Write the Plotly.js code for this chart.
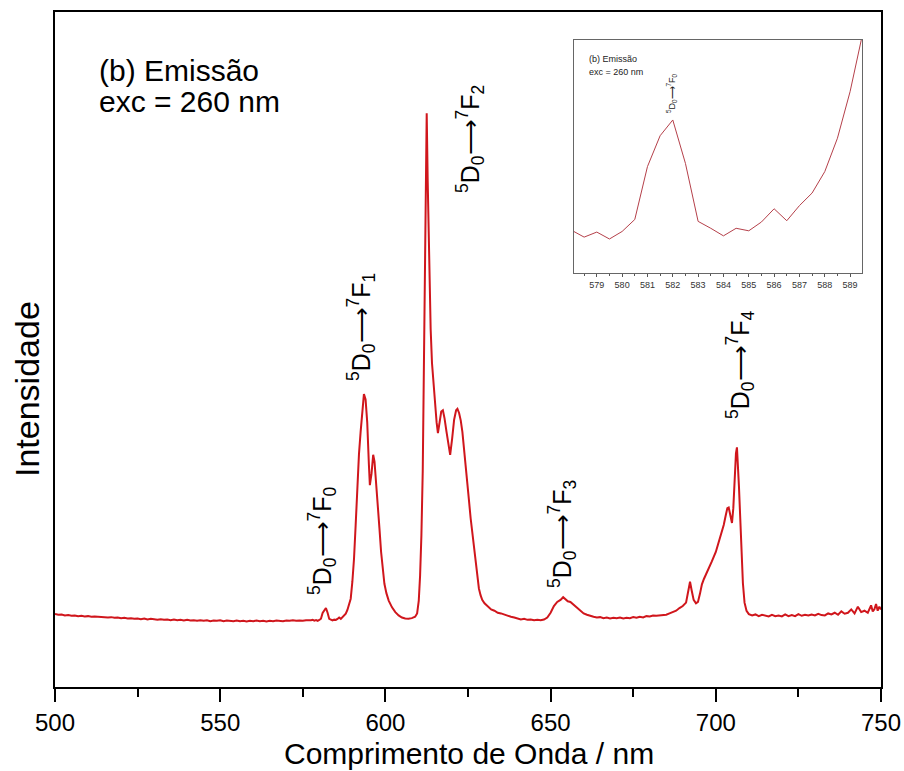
<!DOCTYPE html>
<html>
<head>
<meta charset="utf-8">
<script src="https://cdn.plot.ly/plotly-3.0.1.min.js"></script>
<style>html,body{margin:0;padding:0;background:#fff;}#chart{width:904px;height:771px;}</style>
</head>
<body>
<div id="chart"></div>
<script>
// Emission spectrum (exc = 260 nm), wavelength in nm, intensity in arbitrary units
const wavelength = [
500,501,502,503,504,505,506,507,508,509,510,511,512,513,514,515,516,517,518,519,
520,521,522,523,524,525,526,527,528,529,530,531,532,533,534,535,536,537,538,539,
540,541,542,543,544,545,546,547,548,549,550,551,552,553,554,555,556,557,558,559,
560,561,562,563,564,565,566,567,568,569,570,571,572,573,574,575,576,577,577.5,
578,578.5,579,579.5,580,580.5,581,581.5,582,582.5,583,583.5,584,584.5,585,585.5,
586,586.5,587,587.5,588,588.5,589,589.5,
590,590.5,591,591.5,592,592.5,593,593.5,594,594.5,595,595.3,595.8,596.3,596.7,597.2,
597.7,598.2,598.7,599.2,599.7,600.3,601,602,603,604,605,606,607,608,609,609.6,
610.1,610.5,610.9,611.3,611.6,611.9,612.2,612.5,612.8,613.2,613.7,614.1,614.5,615,
615.5,615.9,616.4,616.9,617.4,617.9,618.5,619.1,619.6,620.2,620.8,621.4,621.8,622.3,
622.8,623.3,623.8,624.3,624.8,625.3,625.8,626.3,626.8,627.3,627.8,628.3,628.8,629.3,
630,631,632,633,634,635,636,637,638,639,640,641,642,643,644,645,646,647,648,649,
650,651,652,653,653.8,654.5,655.2,656,657,658,659,660,661,662,663,664,665,666,667,
668,669,670,671,672,673,674,675,676,677,678,679,680,681,682,683,684,685,686,687,
688,689,690,691,691.6,692.2,692.7,693.3,694,694.6,695.2,695.8,696.4,697,697.6,698.2,
698.8,699.4,700,700.6,701.2,701.8,702.4,703,703.5,703.9,704.4,704.9,705.3,705.7,
706.1,706.4,706.7,707,707.4,707.8,708.2,708.7,709.3,710,711,712,713,714,715,716,
717,718,719,720,721,722,723,724,725,726,727,728,729,730,731,732,733,734,735,736,
737,738,739,740,741,742,743,744,745,746,747,747.5,748,748.5,749,749.5,750
];
const intensity = [
10.8,10.7,10.75,10.6,10.65,10.55,10.6,10.5,10.55,10.45,10.5,10.4,10.45,10.4,10.35,10.4,10.3,10.35,10.25,10.3,
10.2,10.25,10.15,10.2,10.1,10.15,10.05,10.15,10.0,10.1,10.05,9.95,10.05,9.95,10.0,9.9,10.0,9.9,9.95,9.85,
9.95,9.85,9.9,9.8,9.9,9.8,9.9,9.75,9.85,9.8,9.9,9.75,9.85,9.8,9.75,9.85,9.75,9.8,9.7,9.8,
9.75,9.85,9.75,9.8,9.7,9.8,9.75,9.85,9.8,9.75,9.85,9.8,9.9,9.8,9.85,9.8,9.9,9.85,9.9,
9.95,9.84,9.92,9.81,9.93,10.12,10.96,11.45,11.70,11.01,10.09,9.98,9.86,9.98,9.94,10.08,
10.29,10.10,10.34,10.54,10.88,11.41,12.15,13.08,
15.6,19.0,24.0,30.0,34.5,37.8,40.5,43.4,42.6,39.2,33.0,29.9,31.6,34.4,33.4,30.5,
27.0,23.5,20.0,17.3,15.3,13.9,12.8,11.8,11.1,10.6,10.3,10.15,10.1,10.2,10.4,10.9,
12.8,16.5,22.5,32.0,44.0,58.0,72.0,85.0,75.0,63.0,53.0,48.0,45.0,42.0,
39.2,37.6,39.6,40.8,41.0,39.8,37.8,35.5,34.4,36.8,39.6,41.0,41.2,40.6,
39.5,37.8,35.5,33.0,30.3,27.6,25.0,22.8,20.5,18.3,16.2,14.6,13.6,12.9,
12.4,11.9,11.5,11.3,11.0,10.9,10.7,10.5,10.4,10.3,10.2,10.0,10.1,9.95,10.0,9.9,9.95,9.9,10.0,10.3,
11.0,12.0,12.6,12.9,13.3,13.0,12.7,12.6,12.2,11.8,11.3,10.9,10.7,10.5,10.4,10.3,10.35,10.2,10.3,
10.15,10.25,10.2,10.3,10.15,10.25,10.2,10.35,10.25,10.4,10.3,10.5,10.45,10.6,10.55,10.6,10.65,10.7,10.9,11.1,
11.3,11.7,12.0,12.5,14.0,15.6,14.3,12.9,12.4,12.6,13.8,15.2,16.0,16.6,17.2,17.9,
18.6,19.3,20.0,21.0,21.9,22.8,24.0,25.4,26.5,26.6,25.3,24.3,26.5,31.0,
34.6,35.5,33.0,29.8,25.0,19.5,15.4,12.5,11.3,10.8,10.6,10.75,10.5,10.7,10.55,10.45,
10.7,10.5,10.6,10.45,10.75,10.5,10.65,10.5,10.8,10.55,10.7,10.6,10.75,10.6,10.85,10.65,10.6,10.9,10.75,11.0,
10.7,11.2,10.85,11.0,11.5,10.9,11.9,11.1,11.3,11.0,12.1,11.2,11.5,12.3,11.3,11.9,11.5
];
const xTickValues = [500, 550, 600, 650, 700, 750];
const xMinorTickValues = [525, 575, 625, 675, 725];
const insetTickValues = [579, 580, 581, 582, 583, 584, 585, 586, 587, 588, 589];
const insetMinorTickValues = [578.5, 579.5, 580.5, 581.5, 582.5, 583.5, 584.5, 585.5, 586.5, 587.5, 588.5];
const transitionLabels = [
  '<sup>5</sup>D<sub>0</sub>⟶<sup>7</sup>F<sub>0</sub>',
  '<sup>5</sup>D<sub>0</sub>⟶<sup>7</sup>F<sub>1</sub>',
  '<sup>5</sup>D<sub>0</sub>⟶<sup>7</sup>F<sub>2</sub>',
  '<sup>5</sup>D<sub>0</sub>⟶<sup>7</sup>F<sub>3</sub>',
  '<sup>5</sup>D<sub>0</sub>⟶<sup>7</sup>F<sub>4</sub>'
];
const xTitle = 'Comprimento de Onda / nm';
const yTitle = 'Intensidade';
const sampleLines = ['(b) Emissão', 'exc = 260 nm'];

// layout helpers (pixel -> paper), plot area 55..881 x 12..687
const L = 55, R = 881, T = 12, B = 687;
const px = x => (x - L) / (R - L);
const py = y => (B - y) / (B - T);
const FONT = 'Liberation Sans, Arial, sans-serif';

const labelPos = [[322, 541], [361, 327], [470, 139], [562, 534], [740, 365]];
const annotations = [];
transitionLabels.forEach((t, i) => {
  annotations.push({xref: 'paper', yref: 'paper', x: px(labelPos[i][0]), y: py(labelPos[i][1]),
    text: t, showarrow: false, textangle: -90, xanchor: 'center', yanchor: 'middle',
    font: {family: FONT, size: 25, color: '#000'}});
});
annotations.push({xref: 'paper', yref: 'paper', x: px(97), y: py(70), text: sampleLines[0],
  showarrow: false, xanchor: 'left', yanchor: 'middle', font: {family: FONT, size: 30, color: '#000'}});
annotations.push({xref: 'paper', yref: 'paper', x: px(97), y: py(102), text: sampleLines[1],
  showarrow: false, xanchor: 'left', yanchor: 'middle', font: {family: FONT, size: 30, color: '#000'}});
annotations.push({xref: 'paper', yref: 'paper', x: px(469), y: py(753), text: xTitle,
  showarrow: false, xanchor: 'center', yanchor: 'middle', font: {family: FONT, size: 30, color: '#000'}});
annotations.push({xref: 'paper', yref: 'paper', x: px(27), y: py(389), text: yTitle, textangle: -90,
  showarrow: false, xanchor: 'center', yanchor: 'middle', font: {family: FONT, size: 34, color: '#000'}});
// inset texts
annotations.push({xref: 'paper', yref: 'paper', x: px(587), y: py(59), text: sampleLines[0],
  showarrow: false, xanchor: 'left', yanchor: 'middle', font: {family: FONT, size: 9, color: '#222'}});
annotations.push({xref: 'paper', yref: 'paper', x: px(587), y: py(72), text: sampleLines[1],
  showarrow: false, xanchor: 'left', yanchor: 'middle', font: {family: FONT, size: 9, color: '#222'}});
annotations.push({xref: 'paper', yref: 'paper', x: px(671), y: py(93), text: transitionLabels[0], textangle: -90,
  showarrow: false, xanchor: 'center', yanchor: 'middle', font: {family: FONT, size: 9, color: '#222'}});

const traces = [
  {x: wavelength, y: intensity, type: 'scatter', mode: 'lines', xaxis: 'x', yaxis: 'y',
   line: {color: '#d0161c', width: 2}, hoverinfo: 'skip'},
  {x: wavelength, y: intensity, type: 'scatter', mode: 'lines', xaxis: 'x2', yaxis: 'y2',
   line: {color: '#b5404a', width: 1}, hoverinfo: 'skip'}
];

const layout = {
  width: 904, height: 771,
  margin: {l: L, r: 904 - R, t: T, b: 771 - B},
  paper_bgcolor: '#fff', plot_bgcolor: '#fff',
  showlegend: false,
  font: {family: FONT, color: '#000'},
  xaxis: {range: [500, 750], domain: [0, 1], showline: true, mirror: true, linecolor: '#000', linewidth: 2,
    ticks: 'outside', ticklen: 13, tickwidth: 2, tickcolor: '#000', tickvals: xTickValues,
    tickfont: {family: FONT, size: 24, color: '#000'}, showgrid: false, zeroline: false,
    minor: {tickvals: xMinorTickValues, ticks: 'outside', ticklen: 8, tickwidth: 2, tickcolor: '#000', showgrid: false}},
  yaxis: {range: [0, 100], domain: [0, 1], showline: true, mirror: true, linecolor: '#000', linewidth: 2,
    ticks: '', showticklabels: false, showgrid: false, zeroline: false},
  xaxis2: {range: [578.1, 589.47], domain: [px(574), px(862)], anchor: 'y2', showline: true, mirror: true,
    linecolor: '#666', linewidth: 1, ticks: 'outside', ticklen: 3, tickwidth: 1, tickcolor: '#555',
    tickvals: insetTickValues, tickfont: {family: FONT, size: 9, color: '#333'}, showgrid: false, zeroline: false,
    minor: {tickvals: insetMinorTickValues, ticks: 'outside', ticklen: 2, tickwidth: 1, tickcolor: '#555', showgrid: false}},
  yaxis2: {range: [9.27, 12.97], domain: [py(273), py(40)], anchor: 'x2', showline: true, mirror: true,
    linecolor: '#666', linewidth: 1, ticks: '', showticklabels: false, showgrid: false, zeroline: false},
  annotations: annotations
};

Plotly.newPlot('chart', traces, layout, {staticPlot: true, displayModeBar: false});
</script>
</body>
</html>
